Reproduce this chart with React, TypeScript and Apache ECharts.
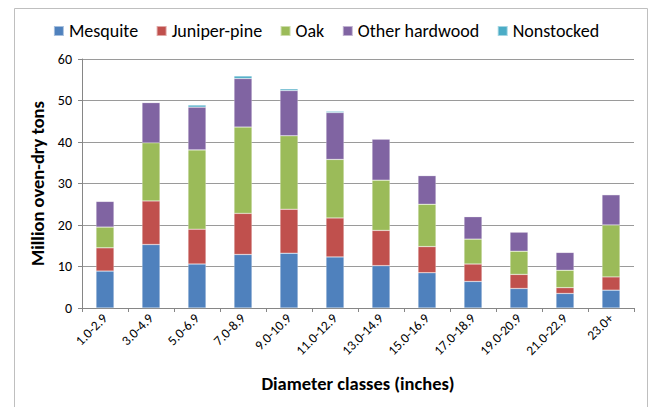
import React, { useEffect, useRef } from "react";
import * as echarts from "echarts";

const categories = ["1.0-2.9", "3.0-4.9", "5.0-6.9", "7.0-8.9", "9.0-10.9", "11.0-12.9", "13.0-14.9", "15.0-16.9", "17.0-18.9", "19.0-20.9", "21.0-22.9", "23.0+"];
const mesquite = [8.9, 15.3, 10.6, 12.9, 13.2, 12.3, 10.2, 8.5, 6.4, 4.7, 3.5, 4.3];
const juniperPine = [5.6, 10.5, 8.4, 9.9, 10.6, 9.4, 8.5, 6.3, 4.2, 3.4, 1.4, 3.2];
const oak = [5.0, 14.0, 19.1, 20.8, 17.7, 14.1, 12.1, 10.2, 6.0, 5.6, 4.2, 12.5];
const otherHardwood = [6.2, 9.7, 10.3, 11.7, 10.9, 11.3, 9.9, 6.9, 5.4, 4.6, 4.3, 7.3];
const nonstocked = [0, 0.1, 0.5, 0.6, 0.4, 0.3, 0.1, 0.1, 0.1, 0, 0, 0];
const seriesNames = ["Mesquite", "Juniper-pine", "Oak", "Other hardwood", "Nonstocked"];
const seriesColors = ["#4F81BD", "#C0504D", "#9BBB59", "#8064A2", "#4BACC6"];
const yTicks = [0, 10, 20, 30, 40, 50, 60];

const FONT = "Carlito, Lato, sans-serif";

export default function App() {
  const ref = useRef<HTMLDivElement>(null);
  useEffect(() => {
    if (!ref.current) return;
    const chart = echarts.init(ref.current, null, { renderer: "svg" });
    const data = [mesquite, juniperPine, oak, otherHardwood, nonstocked];
    chart.setOption({
      animation: false,
      backgroundColor: "#ffffff",
      textStyle: { fontFamily: FONT },
      graphic: [
        {
          type: "rect",
          shape: { x: 14.5, y: 8.5, width: 633, height: 420 },
          style: { fill: "none", stroke: "#bfbfbf", lineWidth: 1 },
          silent: true,
        },
      ],
      legend: {
        data: seriesNames,
        top: 17,
        left: "center",
        icon: "rect",
        itemWidth: 10,
        itemHeight: 10,
        itemGap: 17.5,
        textStyle: { fontFamily: FONT, fontSize: 18, color: "#000" },
      },
      grid: { left: 82, right: 18, top: 59, bottom: 99, containLabel: false },
      xAxis: {
        type: "category",
        data: categories,
        name: "Diameter classes (inches)",
        nameLocation: "middle",
        nameGap: 66,
        nameTextStyle: { fontFamily: FONT, fontSize: 18.5, fontWeight: "bold", color: "#000" },
        axisLine: { lineStyle: { color: "#868686" } },
        axisTick: { show: true, length: 4, lineStyle: { color: "#868686" } },
        axisLabel: { rotate: 45, fontSize: 13.5, color: "#000", margin: 8, fontFamily: FONT },
      },
      yAxis: {
        type: "value",
        min: yTicks[0],
        max: yTicks[yTicks.length - 1],
        interval: 10,
        name: "Million oven-dry tons",
        nameLocation: "middle",
        nameGap: 34,
        nameTextStyle: { fontFamily: FONT, fontSize: 18.5, fontWeight: "bold", color: "#000" },
        axisLine: { show: true, lineStyle: { color: "#868686" } },
        axisTick: { show: true, length: 4, lineStyle: { color: "#868686" } },
        axisLabel: { fontSize: 14, color: "#000", margin: 10, fontFamily: FONT },
        splitLine: { lineStyle: { color: "#9a9a9a" } },
      },
      series: seriesNames.map((name, i) => ({
        name,
        type: "bar",
        stack: "total",
        data: data[i],
        barWidth: "39%",
        itemStyle: { color: seriesColors[i], borderColor: "rgba(255,255,255,0.5)", borderWidth: 0.5 },
      })),
    });
    return () => chart.dispose();
  }, []);
  return (
    <div
      ref={ref}
      style={{ position: "fixed", left: 0, top: 0, width: 652, height: 407, background: "#fff" }}
    />
  );
}
